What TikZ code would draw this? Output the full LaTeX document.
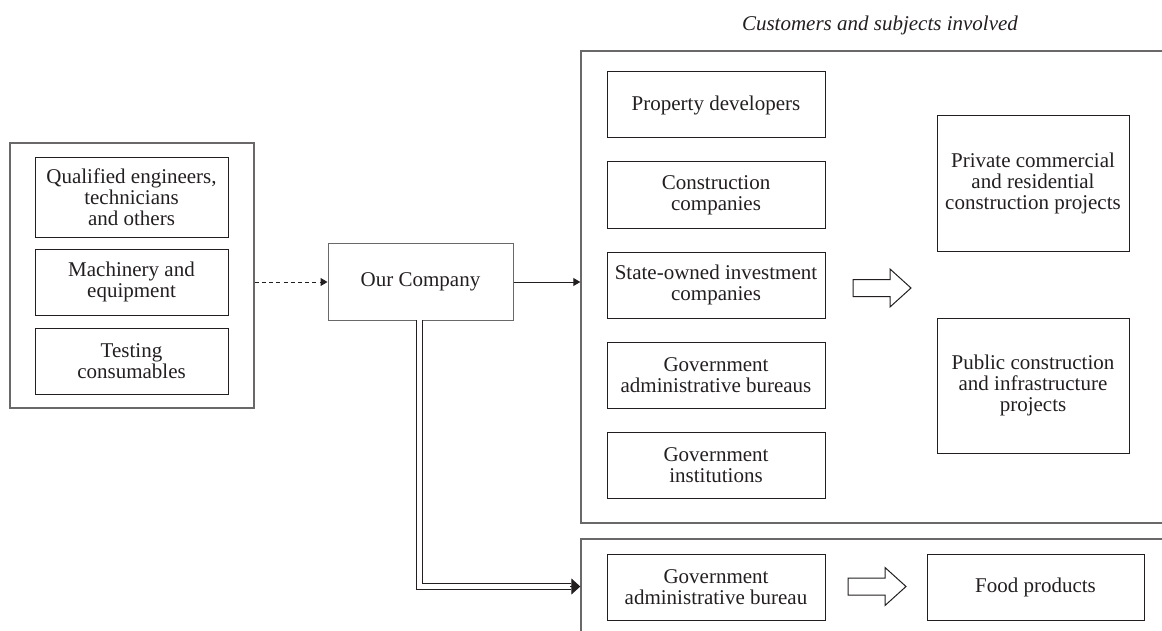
\documentclass[tikz,border=0pt]{standalone}
\usepackage{fontspec}
\setmainfont{Liberation Serif}
\usetikzlibrary{arrows.meta}
\definecolor{ink}{HTML}{231F20}
\definecolor{frame}{HTML}{6B6869}
\begin{document}
\begin{tikzpicture}[x=0.5pt,y=-0.5pt,
  font=\fontsize{10.5}{10.6}\selectfont, text=ink,
  box/.style={draw=ink, line width=0.5pt, align=center, inner sep=0pt, minimum width=109pt, minimum height=33pt},
  container/.style={draw=frame, line width=0.7pt, inner sep=0pt},
  smalltip/.style={-{Triangle[length=3.5pt,width=4pt]}, draw=ink, line width=0.5pt},
  hollow/.style={draw=ink, line width=0.5pt, fill=white}
]
\useasboundingbox (0,0) rectangle (1162,631);

% left group
\node[container, minimum width=122pt, minimum height=132.5pt] (res) at (132,275.5) {};
\node[box, minimum width=96.5pt, minimum height=39.5pt] (q1) at (131.5,197.5) {Qualified engineers,\\technicians\\and others};
\node[box, minimum width=96.5pt] (q2) at (131.5,282) {Machinery and\\equipment};
\node[box, minimum width=96.5pt] (q3) at (131.5,361) {Testing\\consumables};

% company
\node[box, draw=frame, minimum width=92.5pt, minimum height=38.5pt] (co) at (420.5,282) {Our Company};

% containers on the right (open to the right edge)
\node[container, minimum width=299.5pt, minimum height=236pt] (cust) at (880.5,287) {};
\node[container, minimum width=299.5pt, minimum height=55.5pt] (bot) at (880.5,594.5) {};
\node[font=\fontsize{10.5}{10.6}\selectfont\itshape] (title) at (880,25) {Customers and subjects involved};

% customer column
\node[box] (pd) at (716,105) {Property developers};
\node[box] (cc) at (716,195) {Construction\\companies};
\node[box] (so) at (716,285) {State-owned investment\\companies};
\node[box] (gab) at (716,375) {Government\\administrative bureaus};
\node[box] (gi) at (716,465) {Government\\institutions};

\node[box, minimum width=96pt, minimum height=67.5pt] (priv) at (1033,183.5) {Private commercial\\and residential\\construction projects};
\node[box, minimum width=96pt, minimum height=67.5pt] (pub) at (1033,385.5) {Public construction\\and infrastructure\\projects};

\node[box] (gb) at (716,587) {Government\\administrative bureau};
\node[box, minimum width=108.5pt] (food) at (1035.5,587) {Food products};

% hollow arrows
\draw[hollow] (853,279.5) -- (890,279.5) -- (890,269) -- (911,288) -- (890,307) -- (890,296.5) -- (853,296.5) -- cycle;
\draw[hollow] (848,578) -- (885,578) -- (885,567.5) -- (906,586.5) -- (885,605.5) -- (885,595) -- (848,595) -- cycle;

% connectors
\draw[smalltip, dash pattern=on 2pt off 1.6pt] (res.east |- co.west) -- (co.west);
\draw[smalltip] (co.east) -- (cust.west |- co.east);
\draw[draw=ink, line width=0.5pt, double=white, double distance=2.6pt]
  (419.5,320) |- (571,586.5);
\draw[-{Triangle[length=4.5pt,width=8pt]}, draw=ink, line width=0.5pt] (570,586.5) -- (bot.west |- 0,586.5);
\end{tikzpicture}
\end{document}
